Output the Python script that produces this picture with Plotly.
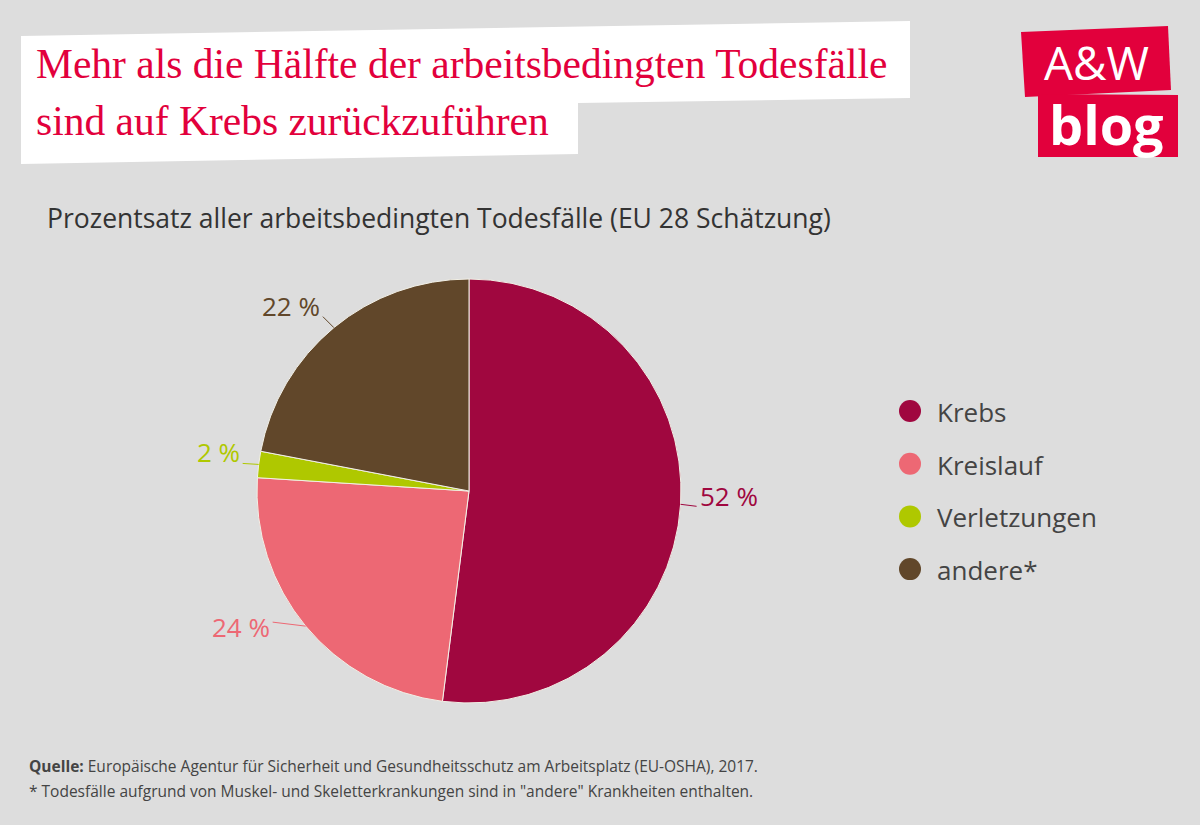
import math
import plotly.graph_objects as go

# ---------------- data ----------------
categories = ["Krebs", "Kreislauf", "Verletzungen", "andere*"]
values = [52, 24, 2, 22]
value_labels = ["52 %", "24 %", "2 %", "22 %"]
colors = ["#a0073f", "#ed6874", "#afc800", "#61472a"]

title_lines = ["Mehr als die Hälfte der arbeitsbedingten Todesfälle",
               "sind auf Krebs zurückzuführen"]
subtitle = "Prozentsatz aller arbeitsbedingten Todesfälle (EU 28 Schätzung)"
source_bold = "Quelle:"
source_text = " Europäische Agentur für Sicherheit und Gesundheitsschutz am Arbeitsplatz (EU-OSHA), 2017."
footnote = "* Todesfälle aufgrund von Muskel- und Skeletterkrankungen sind in \"andere\" Krankheiten enthalten."

# ---------------- layout constants ----------------
W, H = 1200, 825
BG = "#dddddd"
RED = "#e2003c"
CX, CY, R = 469, 491, 212  # pie centre / radius in pixels


def px(x):
    return x / W


def py(y):
    return 1 - y / H


# label leader styling: (leader dx, leader dy, text side, text y shift)
label_style = [
    (16, 2, "left", 10),
    (-33, -4, "right", -5),
    (-16, -1, "right", 11),
    (-11, -11, "right", 11),
]

fig = go.Figure()
fig.add_trace(go.Pie(
    labels=categories,
    values=values,
    sort=False,
    direction="clockwise",
    rotation=0,
    textinfo="none",
    marker=dict(colors=colors, line=dict(color="#f2f0e6", width=1)),
    domain=dict(x=[px(CX - R), px(CX + R)], y=[py(CY + R), py(CY - R)]),
    showlegend=False,
    hovertemplate="%{label}: %{value} %<extra></extra>",
))

shapes = []
annotations = []

# title white box (slightly skewed)
box = [(21, 36), (910, 21), (910, 98), (578, 103), (578, 154), (21, 164)]
path = "M " + " L ".join(f"{px(x):.5f},{py(y):.5f}" for x, y in box) + " Z"
shapes.append(dict(type="path", xref="paper", yref="paper", path=path,
                   fillcolor="white", line=dict(width=0), layer="below"))

# logo boxes
logo1 = [(1021, 32), (1168, 26), (1171, 90), (1025, 97)]
logo2 = [(1038, 94), (1178, 95), (1178, 157), (1038, 157)]
for poly in (logo1, logo2):
    p = "M " + " L ".join(f"{px(x):.5f},{py(y):.5f}" for x, y in poly) + " Z"
    shapes.append(dict(type="path", xref="paper", yref="paper", path=p,
                       fillcolor=RED, line=dict(width=0), layer="below"))

annotations.append(dict(x=px(1096), y=py(62), xref="paper", yref="paper",
                        text="A&amp;W", showarrow=False,
                        font=dict(family="Open Sans", size=46, color="white"),
                        xanchor="center", yanchor="middle"))
annotations.append(dict(x=px(1106), y=py(124), xref="paper", yref="paper",
                        text="<b>blog</b>", showarrow=False,
                        font=dict(family="Open Sans", size=54, color="white"),
                        xanchor="center", yanchor="middle"))

# title lines
for i, line in enumerate(title_lines):
    annotations.append(dict(x=px(34), y=py(64 + 57 * i), xref="paper", yref="paper",
                            text=line, showarrow=False,
                            font=dict(family="Liberation Serif", size=41.5, color=RED),
                            xanchor="left", yanchor="middle"))

# subtitle
annotations.append(dict(x=px(45), y=py(218), xref="paper", yref="paper",
                        text=subtitle, showarrow=False,
                        font=dict(family="Open Sans", size=26.5, color="#333333"),
                        xanchor="left", yanchor="middle"))

# slice labels with leader lines (angles derived from the data)
total = sum(values)
cum = 0
for val, lab, col, (ldx, ldy, side, ysh) in zip(values, value_labels, colors, label_style):
    mid = (cum + val / 2) / total * 2 * math.pi
    cum += val
    ex = CX + R * math.sin(mid)
    ey = CY - R * math.cos(mid)
    ex2, ey2 = ex + ldx, ey + ldy
    shapes.append(dict(type="line", xref="paper", yref="paper",
                       x0=px(ex), y0=py(ey), x1=px(ex2), y1=py(ey2),
                       line=dict(color=col, width=1)))
    annotations.append(dict(x=px(ex2 + (1 if side == "left" else -1)), y=py(ey2 - ysh),
                            xref="paper", yref="paper", text=lab, showarrow=False,
                            font=dict(family="Open Sans", size=26, color=col),
                            xanchor=side, yanchor="middle"))

# legend (circle markers + text)
for i, (cat, col) in enumerate(zip(categories, colors)):
    ly = 411 + 52.7 * i
    shapes.append(dict(type="circle", xref="paper", yref="paper",
                       x0=px(899), x1=px(921), y0=py(ly + 11), y1=py(ly - 11),
                       fillcolor=col, line=dict(width=0)))
    annotations.append(dict(x=px(935), y=py(ly + 1), xref="paper", yref="paper",
                            text=cat, showarrow=False,
                            font=dict(family="Open Sans", size=26, color="#444444"),
                            xanchor="left", yanchor="middle"))

# footer
annotations.append(dict(x=px(27), y=py(766), xref="paper", yref="paper",
                        text=f"<b>{source_bold}</b>{source_text}", showarrow=False,
                        font=dict(family="Open Sans", size=15.5, color="#444444"),
                        xanchor="left", yanchor="middle"))
annotations.append(dict(x=px(27), y=py(791), xref="paper", yref="paper",
                        text=footnote, showarrow=False,
                        font=dict(family="Open Sans", size=15.5, color="#444444"),
                        xanchor="left", yanchor="middle"))

fig.update_layout(
    width=W, height=H,
    margin=dict(l=0, r=0, t=0, b=0),
    paper_bgcolor=BG, plot_bgcolor=BG,
    shapes=shapes, annotations=annotations,
    showlegend=False,
)

fig.write_html("out.html", config={"displayModeBar": False},
               post_script="document.body.style.margin='0px';document.body.style.background='#dddddd';")
